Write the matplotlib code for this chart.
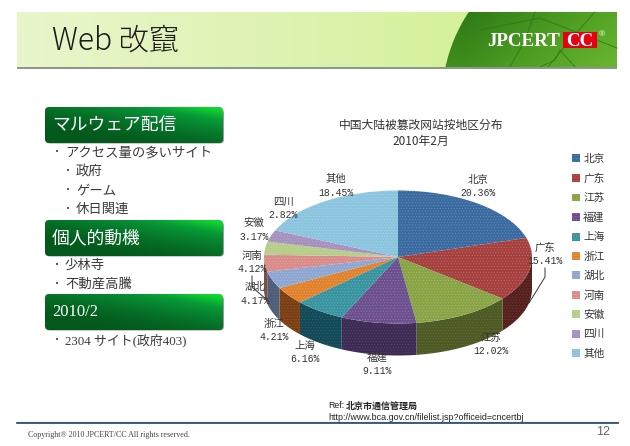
import numpy as np
import matplotlib
matplotlib.use("Agg")
import matplotlib.pyplot as plt
from matplotlib.colors import LinearSegmentedColormap as LSC, to_rgba
from matplotlib.patches import FancyBboxPatch, Polygon, Rectangle, Circle

regions = ["北京", "广东", "江苏", "福建", "上海", "浙江", "湖北", "河南", "安徽", "四川", "其他"]
shares = [20.36, 15.41, 12.02, 9.11, 6.16, 4.21, 4.17, 4.12, 3.17, 2.82, 18.45]
top_colors = ["#38699f", "#a53f3d", "#87a343", "#6b4e8d", "#37939f", "#e0822c",
              "#8da6d1", "#d88b88", "#b5cd88", "#a690be", "#8ac4de"]
wall_colors = ["#2a4c74", "#55201e", "#4d5a24", "#3e2b54", "#124a58", "#7c3f14",
               "#4e5d78", "#7c4a48", "#65734a", "#5c5070", "#4f7080"]
label_xy = [(478, 180), (545, 248), (491, 338), (377, 358), (305, 346), (274, 324),
            (255, 287), (252, 256), (254, 223), (283, 202), (336, 179)]

chart_title = ["中国大陆被篡改网站按地区分布", "2010年2月"]
slide_title = "Web 改竄"
sections = ["マルウェア配信", "個人的動機", "2010/2"]
section_y = [(107, 143), (220, 256), (294, 330)]
bullets = [(53, 152, "アクセス量の多いサイト"), (64, 171, "政府"), (64, 190, "ゲーム"),
           (64, 209, "休日関連"), (53, 265, "少林寺"), (53, 284, "不動産高騰"),
           (53, 340, "2304 サイト(政府403)")]

W, H = 630, 446
CJK = ["Noto Sans CJK JP", "DejaVu Sans"]
SC = ["Noto Sans CJK SC", "DejaVu Sans"]
MIXED = ["Liberation Serif", "Noto Sans CJK JP"]
plt.rcParams["hatch.linewidth"] = 0.5
fig = plt.figure(figsize=(W / 100, H / 100), dpi=100, facecolor="white")

bg = fig.add_axes([0, 0, 1, 1])
bg.set_xlim(0, W); bg.set_ylim(H, 0); bg.axis("off")

# header band
band_x0, band_x1, band_y0, band_y1 = 17, 617, 12, 67
grad = np.linspace(0, 1, 256)[None, :]
bg.imshow(grad, extent=[band_x0, band_x1, band_y1, band_y0], aspect="auto", zorder=1,
          cmap=LSC.from_list("h", ["#e8f6cc", "#dcf3ae", "#cff086"]))
yy, xx = np.mgrid[0:1:60j, 0:1:600j]
shade = np.clip((xx - 0.75) / 0.25, 0, 1) * 0.7 + yy * 0.3
globe = bg.imshow(shade, extent=[band_x0, band_x1, band_y1, band_y0], aspect="auto", zorder=2,
                  cmap=LSC.from_list("g", ["#2f7a16", "#4c9c22", "#6ab62f"]))
globe.set_clip_path(Circle((600, 100), 158, transform=bg.transData))
for line_x, line_y in [([480, 540, 617], [30, 18, 48]), ([535, 525, 510], [12, 40, 67]),
                       ([595, 570, 548], [12, 40, 67]), ([540, 555, 560, 575], [67, 60, 50, 67])]:
    ln, = bg.plot(line_x, line_y, color="#2f7a16", lw=0.6, zorder=3)
    ln.set_clip_path(Circle((600, 100), 158, transform=bg.transData))
bg.add_patch(Rectangle((band_x0, band_y1), band_x1 - band_x0, 1.6, color="#8a9a8a", zorder=3, lw=0))
bg.text(52, 41, slide_title, fontsize=21.7, family=CJK, va="center", color="#1c1c1c", zorder=5,
        fontweight="light")
bg.text(487, 41, "JPCERT", fontsize=13.7, family="Liberation Serif", fontweight="bold",
        color="white", va="center", zorder=5)
bg.add_patch(Rectangle((563, 32), 34, 16, color="#e60012", lw=0, zorder=4))
bg.text(580, 41, "CC", fontsize=13.7, family="Liberation Serif", fontweight="bold",
        color="white", va="center", ha="center", zorder=5)
bg.text(602, 35, "®", fontsize=6, family="Liberation Sans", color="white", va="center", ha="center", zorder=5)

# section boxes
yy, xx = np.mgrid[0:1:40j, 0:1:120j]
sec_grad = np.clip(0.55 * xx + 0.6 * (1 - yy) - 0.1, 0, 1) ** 2
cm = LSC.from_list("s", ["#03581b", "#067a2c", "#079a38", "#10d62e"])
for (y0, y1), s in zip(section_y, sections):
    bg.add_patch(FancyBboxPatch((46, y0 + 2), 178, y1 - y0 - 1.5, boxstyle="round,pad=0,rounding_size=4",
                                fc="#999999", ec="none", zorder=1))
    box = FancyBboxPatch((45, y0), 178, y1 - y0, boxstyle="round,pad=0,rounding_size=4",
                         fc="none", ec="none", zorder=2)
    bg.add_patch(box)
    img = bg.imshow(sec_grad, extent=[45, 223, y1, y0], aspect="auto", cmap=cm, vmin=0, vmax=1, zorder=2)
    img.set_clip_path(box)
    serif = s[0] == "2"
    bg.text(52, (y0 + y1) / 2, s, fontsize=12 if serif else 12.8,
            family="Liberation Serif" if serif else CJK, color="white", va="center", zorder=3)
bg.set_xlim(0, W); bg.set_ylim(H, 0)
for x, y, t in bullets:
    bg.text(x + 4, y, "•", fontsize=5, family="DejaVu Sans", va="center", ha="center", color="#333333")
    bg.text(x + 12, y, t, fontsize=9.6 if t[0] != "2" else 9.3, family=MIXED if t[0] == "2" else CJK,
            va="center", color="#3a3a3a")

# footer
bg.text(328, 406, "Ref:", fontsize=6.3, family="Liberation Sans", va="center", color="#222222")
bg.text(346, 406, "北京市通信管理局", fontsize=6.5, family=SC, fontweight="bold", va="center", color="#222222")
bg.text(328, 417, "http://www.bca.gov.cn/filelist.jsp?officeid=cncertbj", fontsize=6.37,
        family="Liberation Sans", va="center", color="#222222")
bg.plot([17, 618], [422.2, 422.2], color="#c4c8cc", lw=1)
bg.plot([17, 618], [423.4, 423.4], color="#1f4566", lw=1.2)
bg.text(28, 435, "Copyright® 2010 JPCERT/CC All rights reserved.", fontsize=5.75,
        family="Liberation Serif", va="center", color="#444444")
bg.text(603, 432, "12", fontsize=9, family="Liberation Sans", va="center", ha="center", color="#666666")

# 3D-looking pie
rx, ry, depth_px = 134, 66.5, 32
cx, cy = 398, 257
ax = fig.add_axes([(cx - rx) / W, 1 - (cy + ry + depth_px) / H, 2 * rx / W, (2 * ry + depth_px) / H])
wedges, _ = ax.pie(shares, colors=top_colors, startangle=90, counterclock=False, radius=1,
                   wedgeprops=dict(linewidth=0))
ax.set_aspect("auto")
depth = depth_px / ry
ax.set_xlim(-1, 1); ax.set_ylim(-1 - depth, 1)
edges = 90 - 3.6 * np.cumsum([0] + shares)
for i, c in enumerate(wall_colors):
    a0, a1 = edges[i], edges[i + 1]
    lo = max(a1, -180); hi = min(a0, 0)
    if hi <= lo:
        continue
    t = np.radians(np.linspace(hi, lo, 40))
    xs, ys = np.cos(t), np.sin(t)
    pts = np.r_[np.c_[xs, ys], np.c_[xs[::-1], ys[::-1] - depth]]
    ax.add_patch(Polygon(pts, closed=True, fc=c, ec=to_rgba("#ffffff", 0.1), lw=0, hatch="......", zorder=0.5))
for w in wedges:
    w.set_zorder(2)
    w.set_hatch("......")
    w.set_edgecolor(to_rgba("#ffffff", 0.2))

# overlay texts
ov = fig.add_axes([0, 0, 1, 1], facecolor="none")
ov.set_xlim(0, W); ov.set_ylim(H, 0); ov.axis("off")
ov.text(421, 125, chart_title[0], fontsize=8.5, family=SC, ha="center", va="center", color="#333333")
ov.text(421, 141, chart_title[1], fontsize=8.5, family=SC, ha="center", va="center", color="#333333")
for name, v, (x, y) in zip(regions, shares, label_xy):
    ov.text(x, y, name, fontsize=7.5, family=SC, ha="center", va="center", color="#333333")
    ov.text(x, y + 13.5, f"{v:.2f}%", fontsize=7, family="Liberation Mono", ha="center", va="center",
            color="#333333")
ov.plot([545, 545, 529], [268, 277, 303], color="#333333", lw=0.7)
ov.plot([252, 252, 267], [276, 287, 300], color="#333333", lw=0.7)

leg = ov.legend(wedges, regions, loc="upper left", bbox_to_anchor=(572 / W, 1 - 154 / H),
                bbox_transform=fig.transFigure, frameon=False, prop=dict(family=SC, size=7.7),
                handlelength=0.75, handleheight=0.75, handletextpad=0.3, labelspacing=0.86,
                borderpad=0, borderaxespad=0, labelcolor="#333333")

fig.savefig("out.png", dpi=100)
